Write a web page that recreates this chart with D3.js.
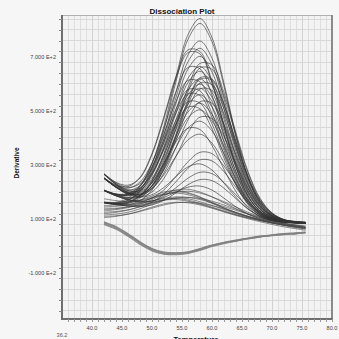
<!DOCTYPE html>
<html><head><meta charset="utf-8">
<script src="https://cdn.jsdelivr.net/npm/d3@7"></script>
<style>html,body{margin:0;padding:0;background:#f6f6f6;overflow:hidden}</style>
</head><body>
<svg id="chart" width="339" height="339"></svg>
<script>
const temps = [42,44,46,48,50,52,54,56,58,60,62,64,66,68,70,72,74,75.6];
const mainCurves = [
 [207,192,192,223,304,445,625,782,842,771,602,410,255,160,113,94,88,86],
 [161,159,169,205,288,430,609,765,824,756,591,402,250,157,112,93,86,85],
 [251,222,206,224,290,411,569,707,759,695,545,374,237,153,111,95,88,87],
 [268,236,225,252,338,473,620,716,711,603,443,292,186,128,102,92,89,87],
 [206,191,188,210,273,385,529,655,702,644,506,350,224,147,109,93,87,86],
 [251,218,195,196,233,317,446,585,676,670,568,418,276,177,123,98,90,87],
 [163,162,177,220,307,435,572,661,656,558,411,273,175,122,98,89,86,84],
 [266,231,208,214,267,370,504,621,665,611,482,335,217,145,109,95,89,88],
 [206,190,186,204,261,361,492,605,647,594,469,326,212,141,107,92,87,86],
 [161,155,154,168,207,288,407,534,617,613,521,385,256,166,118,95,88,85],
 [253,224,214,237,307,416,535,613,607,516,383,258,169,121,99,91,88,86],
 [161,157,161,184,239,334,455,560,599,551,437,306,201,136,104,91,86,85],
 [206,187,177,181,214,284,391,506,581,576,490,364,245,162,116,96,88,86],
 [251,220,201,207,251,337,449,548,584,536,425,300,198,136,106,93,88,86],
 [207,193,194,221,286,385,493,563,557,475,354,241,161,117,97,89,87,85],
 [266,230,205,204,244,325,432,525,560,515,410,290,194,135,106,94,89,87],
 [250,217,193,188,211,271,365,467,534,528,450,337,230,155,115,96,89,87],
 [161,156,159,178,223,304,407,496,529,487,389,276,185,130,102,90,86,84],
 [207,192,191,214,270,357,452,514,508,434,326,225,154,114,96,89,86,85],
 [251,219,198,200,234,303,394,475,504,463,370,266,181,129,103,92,88,86],
 [265,227,197,183,200,251,332,419,477,472,404,305,212,147,112,96,90,88],
 [206,189,180,187,220,283,365,437,462,426,342,248,171,124,101,91,87,85],
 [162,158,164,187,235,308,386,436,431,372,284,201,142,109,94,88,85,84],
 [251,218,195,191,214,264,333,393,414,381,309,227,161,120,100,91,88,86],
 [205,186,172,168,178,208,258,312,347,342,296,231,169,126,103,91,87,86],
 [160,153,149,150,163,193,238,288,319,315,275,216,161,122,100,90,86,84],
 [250,217,191,181,190,217,257,293,304,281,233,180,137,110,96,90,87,86],
 [205,186,171,163,167,185,216,251,273,268,235,189,146,115,98,90,87,85],
 [160,153,148,146,152,169,197,227,246,242,214,175,137,111,96,89,86,84],
 [205,186,172,164,167,180,200,218,222,207,177,145,118,101,93,88,86,85],
 [253,226,220,254,343,480,628,726,720,609,447,294,186,127,101,91,88,86],
 [206,188,178,186,225,309,435,571,659,654,555,408,270,173,121,97,89,86],
 [161,157,162,186,243,343,468,578,619,569,450,315,205,138,105,91,86,85],
 [267,234,217,231,294,395,507,579,574,490,365,248,165,120,100,91,89,87],
 [251,218,194,192,222,293,404,524,603,597,507,376,252,166,119,97,90,87],
 [206,191,189,212,279,398,550,682,732,671,527,363,230,149,110,93,87,86],
 [162,160,170,201,266,363,466,534,529,452,339,232,156,115,96,88,85,84],
 [266,228,199,192,222,298,415,540,623,618,525,388,259,169,121,98,91,88]
];
const lowCurves = [
 [130,135,142,155,172,190,200,195,180,160,140,122,108,96,86,78,72,68],
 [150,152,158,170,185,200,205,198,182,162,142,124,110,98,88,80,74,70],
 [115,118,125,138,155,170,178,175,164,150,135,120,107,96,86,78,72,68],
 [175,168,165,170,180,192,196,190,176,158,140,124,110,98,89,82,77,74],
 [120,125,133,146,160,172,176,170,158,144,130,116,104,94,85,77,70,65],
 [140,140,144,152,162,170,172,166,155,142,128,115,104,94,85,77,70,64],
 [105,110,118,130,144,156,162,160,152,140,126,113,101,90,80,71,64,58],
 [160,155,153,157,166,176,182,180,172,160,146,132,118,105,94,85,78,73],
 [125,128,134,145,158,170,178,180,176,166,152,136,120,106,94,84,76,70],
 [135,138,146,160,178,195,208,210,200,182,160,138,118,102,90,80,72,66],
 [110,112,118,128,140,152,160,162,158,150,138,124,110,97,86,76,68,62],
 [145,147,152,162,176,190,200,203,196,182,164,144,125,108,94,83,74,68]
];
const negCurves = [
 [85,68,42,12,-13,-26,-28,-24,-12,2,12,20,28,35,40,44,47,50],
 [80,62,36,6,-18,-30,-32,-27,-16,-2,9,18,26,33,38,42,45,48],
 [90,72,46,16,-9,-22,-25,-21,-9,4,14,22,30,37,42,46,49,52],
 [82,65,39,9,-16,-28,-30,-25,-14,0,11,19,27,34,39,43,46,49],
 [88,70,44,14,-11,-24,-26,-22,-10,3,13,21,29,36,41,45,48,51]
];
const yTickValues = [-100,100,300,500,700];
const yTickLabels = ["-1.000 E+2","1.000 E+2","3.000 E+2","5.000 E+2","7.000 E+2"];
const xTickValues = [40,45,50,55,60,65,70,75,80];
const xTickLabels = ["40.0","45.0","50.0","55.0","60.0","65.0","70.0","75.0","80.0"];
const xStartLabel = "36.2";
const title = "Dissociation Plot";
const xTitle = "Temperature";
const yTitle = "Derivative";

const svg = d3.select("#chart");
const L = 62, R = 332, T = 15, B = 319;
const x = d3.scaleLinear().domain([35, 80]).range([L, R]);
const y = d3.scaleLinear().domain([-270, 855]).range([B, T]);

svg.append("rect").attr("width",339).attr("height",339).attr("fill","#f6f6f6");
svg.append("rect").attr("x",L).attr("y",T).attr("width",R-L).attr("height",B-T).attr("fill","#f3f3f3");

// grid
const g = svg.append("g");
g.selectAll(".vg").data(d3.range(36, 80, 1)).join("line")
  .attr("x1", d => x(d)).attr("x2", d => x(d)).attr("y1", T).attr("y2", B)
  .attr("stroke", d => d % 5 === 0 ? "#d2d2d2" : "#dedede").attr("stroke-width", 1)
  .attr("shape-rendering","crispEdges");
g.selectAll(".hg").data(d3.range(-240, 855, 40)).join("line")
  .attr("x1", L).attr("x2", R).attr("y1", d => y(d)).attr("y2", d => y(d))
  .attr("stroke", "#d8d8d8").attr("stroke-width", 1)
  .attr("shape-rendering","crispEdges");

const line = d3.line().x((d, i) => x(temps[i])).y(d => y(d)).curve(d3.curveCatmullRom);

svg.append("g").selectAll("path").data(lowCurves).join("path")
  .attr("d", line).attr("fill","none").attr("stroke","#444").attr("stroke-width",0.8).attr("stroke-opacity",0.75);
svg.append("g").selectAll("path").data(negCurves).join("path")
  .attr("d", line).attr("fill","none").attr("stroke","#808080").attr("stroke-width",1.1).attr("stroke-opacity",0.85);
svg.append("g").selectAll("path").data(mainCurves).join("path")
  .attr("d", line).attr("fill","none").attr("stroke","#333").attr("stroke-width",0.85).attr("stroke-opacity",0.75);

// frame
svg.append("line").attr("x1",L).attr("x2",R).attr("y1",T+0.5).attr("y2",T+0.5).attr("stroke","#b0b0b0");
svg.append("line").attr("x1",R).attr("x2",R).attr("y1",T).attr("y2",B+1).attr("stroke","#8a8a8a").attr("stroke-width",2);
svg.append("line").attr("x1",L).attr("x2",L).attr("y1",T).attr("y2",B+1).attr("stroke","#6e6e6e").attr("stroke-width",2);
svg.append("line").attr("x1",L).attr("x2",R+1).attr("y1",B).attr("y2",B).attr("stroke","#6e6e6e").attr("stroke-width",2);

// axis ticks
svg.append("g").selectAll("line").data(d3.range(-240, 855, 40)).join("line")
  .attr("x1", L-3).attr("x2", L).attr("y1", d => Math.round(y(d))+0.5).attr("y2", d => Math.round(y(d))+0.5)
  .attr("stroke","#888");
svg.append("g").selectAll("line").data(d3.range(36, 81, 1)).join("line")
  .attr("x1", d => Math.round(x(d))+0.5).attr("x2", d => Math.round(x(d))+0.5).attr("y1", B).attr("y2", B+3)
  .attr("stroke","#999");

const font = "'Liberation Sans', Arial, sans-serif";
svg.append("g").selectAll("text").data(yTickValues).join("text")
  .attr("x", 56).attr("y", d => y(d)).attr("dy","0.35em").attr("text-anchor","end")
  .attr("font-family", font).attr("font-size", 5.6).attr("fill","#444")
  .text((d, i) => yTickLabels[i]);
svg.append("g").selectAll("text").data(xTickValues).join("text")
  .attr("x", d => x(d)).attr("y", 330).attr("text-anchor","middle")
  .attr("font-family", font).attr("font-size", 5.6).attr("fill","#444")
  .text((d, i) => xTickLabels[i]);
svg.append("text").attr("x", L).attr("y", 337).attr("text-anchor","middle")
  .attr("font-family", font).attr("font-size", 5.6).attr("fill","#555").text(xStartLabel);

svg.append("text").attr("x", 182).attr("y", 14).attr("text-anchor","middle")
  .attr("font-family", font).attr("font-weight","bold").attr("font-size", 8).attr("fill","#111").text(title);
svg.append("text").attr("transform","translate(19,163) rotate(-90)").attr("text-anchor","middle")
  .attr("font-family", font).attr("font-weight","bold").attr("font-size", 6.5).attr("fill","#111").text(yTitle);
svg.append("text").attr("x", 196).attr("y", 342).attr("text-anchor","middle")
  .attr("font-family", font).attr("font-weight","bold").attr("font-size", 7.5).attr("fill","#111").text(xTitle);
</script>
</body></html>
